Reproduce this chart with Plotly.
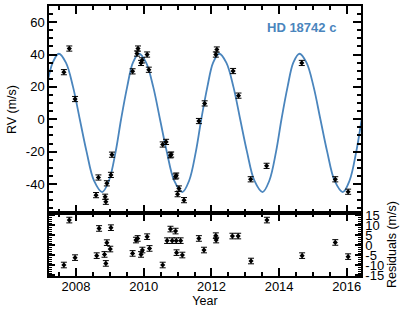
import plotly.graph_objects as go
from plotly.subplots import make_subplots

# radial velocity measurements (year, m/s)
rv_time = [2007.64, 2007.80, 2007.97, 2008.59, 2008.66, 2008.86, 2008.88, 2008.91,
           2009.03, 2009.06, 2009.67, 2009.80, 2009.83, 2009.92, 2009.95, 2010.10,
           2010.15, 2010.56, 2010.66, 2010.79, 2010.81, 2010.94, 2010.96, 2011.00,
           2011.04, 2011.19, 2011.63, 2011.80, 2012.13, 2012.16, 2012.64, 2012.80,
           2013.16, 2013.63, 2014.67, 2015.66, 2016.04]
rv = [29.1, 43.7, 12.5, -46.9, -36.0, -47.9, -51.0, -39.6,
      -34.4, -21.9, 29.6, 40.6, 43.7, 34.8, 36.4, 40.0,
      30.6, -15.6, -14.0, -22.3, -21.8, -35.4, -34.8, -46.3,
      -42.8, -50.0, -1.1, 9.8, 40.0, 43.1, 29.8, 14.6,
      -37.1, -28.8, 34.8, -37.1, -44.8]
rv_err = [1.6] * len(rv)

# orbit model
model_time = [2007.13, 2007.31, 2007.49, 2007.70, 2007.91, 2008.11, 2008.31, 2008.53,
              2008.77, 2008.97, 2009.17, 2009.33, 2009.51, 2009.68, 2009.86, 2010.07,
              2010.28, 2010.48, 2010.68, 2010.90, 2011.14, 2011.34, 2011.54, 2011.70,
              2011.88, 2012.05, 2012.23, 2012.44, 2012.65, 2012.85, 2013.05, 2013.27,
              2013.51, 2013.71, 2013.91, 2014.07, 2014.25, 2014.42, 2014.60, 2014.81,
              2015.02, 2015.22, 2015.42, 2015.64, 2015.88, 2016.08, 2016.28, 2016.44]
model_rv = [20, 35, 40.5, 35, 20, 0, -20, -38,
            -45, -38, -20, 0, 20, 35, 40.5, 35,
            20, 0, -20, -38, -45, -38, -20, 0,
            20, 35, 40.5, 35, 20, 0, -20, -38,
            -45, -38, -20, 0, 20, 35, 40.5, 35,
            20, 0, -20, -38, -45, -38, -20, 0]

# residuals (year, m/s)
res_time = [2007.64, 2007.80, 2007.97, 2008.61, 2008.68, 2008.84, 2008.88, 2008.91,
            2009.01, 2009.03, 2009.67, 2009.77, 2009.82, 2009.92, 2009.96, 2010.10,
            2010.17, 2010.56, 2010.69, 2010.79, 2010.84, 2010.94, 2010.96, 2010.97,
            2011.09, 2011.14, 2011.63, 2011.78, 2012.13, 2012.14, 2012.62, 2012.79,
            2013.17, 2013.64, 2014.68, 2015.66, 2016.04]
res = [-10.0, 12.5, -6.3, -5.3, 8.3, -4.7, -9.2, 1.2,
       -2.0, 8.7, -4.2, 2.5, 3.3, -4.7, -2.5, 4.2,
       -1.7, -10.0, 2.2, 8.0, 2.2, 7.0, 2.2, -3.8,
       2.2, -5.0, 3.3, -2.5, 4.7, 2.5, 4.5, 4.5,
       -8.0, 12.5, -5.3, 1.3, -5.8]
res_err = [1.4] * len(res)

rv_ticks = [-40, -20, 0, 20, 40, 60]
rv_ticktext = ["-40", "-20", "0", "20", "40", "60"]
res_ticks = [-15, -10, -5, 0, 5, 10, 15]
res_ticktext = ["-15", "-10", "-5", "0", "5", "10", "15"]
year_ticks = [2008, 2010, 2012, 2014, 2016]

BLUE = "#4a85bd"
FONT = "Liberation Sans, Arial, sans-serif"

fig = make_subplots(rows=2, cols=1, shared_xaxes=True, vertical_spacing=0,
                    row_heights=[0.767, 0.233])

fig.add_trace(go.Scatter(x=model_time, y=model_rv, mode="lines", line_shape="spline",
                         line=dict(color=BLUE, width=1.8), hoverinfo="skip"),
              row=1, col=1)
fig.add_trace(go.Scatter(x=rv_time, y=rv, mode="markers",
                         marker=dict(symbol="diamond", size=4, color="black"),
                         error_y=dict(type="data", array=rv_err, color="black",
                                      thickness=1, width=3)),
              row=1, col=1)
fig.add_hline(y=0, line=dict(color=BLUE, width=1.8), row=2, col=1)
fig.add_trace(go.Scatter(x=res_time, y=res, mode="markers",
                         marker=dict(symbol="diamond", size=4, color="black"),
                         error_y=dict(type="data", array=res_err, color="black",
                                      thickness=1, width=3)),
              row=2, col=1)

axis_style = dict(showline=True, linecolor="black", linewidth=1.5, mirror="allticks",
                  ticks="inside", tickcolor="black", tickwidth=1.5, showgrid=False,
                  zeroline=False, automargin=False)

fig.update_xaxes(range=[2007.2, 2016.42], tickvals=year_ticks, ticklen=8,
                 minor=dict(dtick=0.5, tick0=2008, ticks="inside", ticklen=4,
                            tickcolor="black", tickwidth=1.5),
                 **axis_style)
fig.update_xaxes(showticklabels=False, row=1, col=1)
fig.update_xaxes(title=dict(text="Year", standoff=2, font=dict(size=12.5)),
                 ticklabelstandoff=-2, row=2, col=1)

fig.update_yaxes(range=[-58, 70], tickvals=rv_ticks, ticktext=rv_ticktext, ticklen=8,
                 minor=dict(dtick=5, tick0=0, ticks="inside", ticklen=4,
                            tickcolor="black", tickwidth=1.5),
                 title=dict(text="RV (m/s)", standoff=6, font=dict(size=12.5)),
                 row=1, col=1, **axis_style)
fig.update_yaxes(range=[-15.5, 16], tickvals=res_ticks, ticktext=res_ticktext,
                 ticklen=6, side="right",
                 minor=dict(dtick=1, tick0=0, ticks="inside", ticklen=3,
                            tickcolor="black", tickwidth=1),
                 title=dict(text="Residuals (m/s)", standoff=4, font=dict(size=12.5)),
                 row=2, col=1, **axis_style)

fig.add_annotation(text="<b>HD 18742 c</b>", xref="paper", yref="paper",
                   x=0.808, y=0.921, xanchor="center", yanchor="middle",
                   showarrow=False, font=dict(color=BLUE, size=13, family=FONT))

fig.update_layout(width=415, height=312, showlegend=False,
                  margin=dict(l=49, r=54, t=6, b=36),
                  paper_bgcolor="white", plot_bgcolor="white",
                  font=dict(family=FONT, size=13, color="black"))

# drop the page's default body margin so the figure sits at the window corner
fig.write_html("out.html", config={"displayModeBar": False},
               post_script="document.body.style.margin = '0px';")
